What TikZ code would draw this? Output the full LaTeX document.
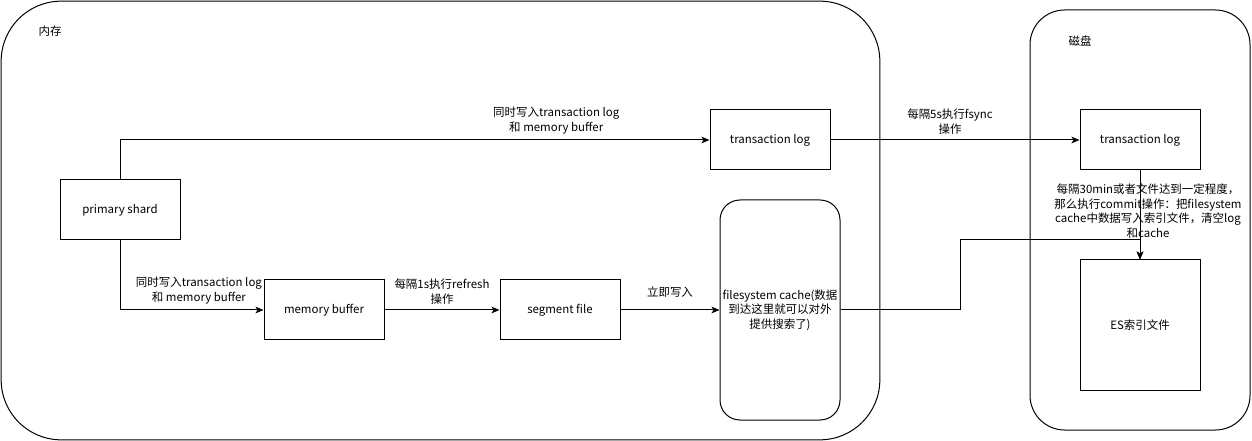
\documentclass[tikz,border=0pt]{standalone}
\usepackage{fontspec}
\setmainfont{Noto Sans CJK SC}
\usetikzlibrary{arrows.meta}

\begin{document}
\begin{tikzpicture}[x=0.75pt, y=-0.75pt, line width=0.75pt,
  font=\fontsize{8.6}{11}\selectfont,
  area/.style={draw, inner sep=0pt},
  box/.style={draw, minimum width=90pt, minimum height=45pt, inner sep=0pt},
  lbl/.style={align=center, inner sep=1pt},
  flow/.style={-{Stealth[length=6pt, width=5pt, inset=1.5pt]}}]
\useasboundingbox (0,0) rectangle (1252,441);

% two areas
\node[area, rounded corners=45pt, minimum width=659pt, minimum height=329pt] (mem) at (440.5,220.5) {};
\node[area, rounded corners=26pt, minimum width=165pt, minimum height=315pt] (disk) at (1140,220) {};
\node (memlbl) at (50,31) {内存};
\node (disklbl) at (1080,41) {磁盘};

% boxes
\node[box] (shard) at (120,210) {primary shard};
\node[box] (tlog) at (770,140) {transaction log};
\node[box] (buffer) at (324,310) {memory buffer};
\node[box] (segment) at (560,310) {segment file};
\node[box, rounded corners=15pt, minimum height=165pt, align=center] (cache) at (780,310) {filesystem cache(数据\\到达这里就可以对外\\提供搜索了)};
\node[box] (disklog) at (1140,140) {transaction log};
\node[box, minimum height=97.5pt] (index) at (1140,325) {ES索引文件};

% connectors
\draw[flow] (shard.north) |- (tlog.west) node[lbl, pos=0.87, above=3pt] {同时写入transaction log\\和 memory buffer};
\draw[flow] (shard.south) |- (buffer.west) node[lbl, pos=0.775, above=3pt] {同时写入transaction log\\和 memory buffer};
\draw[flow] (buffer) -- (segment) node[lbl, midway, above=3pt] {每隔1s执行refresh\\操作};
\draw[flow] (segment) -- (cache) node[lbl, midway, above=8pt] {立即写入};
\draw[flow] (tlog) -- (disklog) node[lbl, pos=0.48, above=3pt] {每隔5s执行fsync\\操作};
\draw[flow] (disklog) -- (index) node[lbl, midway, xshift=6pt, yshift=3pt] {每隔30min或者文件达到一定程度，\\那么执行commit操作：把filesystem\\cache中数据写入索引文件，清空log\\和cache};
\draw[flow] (cache.east) -| (960,240) -| (index.north);
\end{tikzpicture}
\end{document}
